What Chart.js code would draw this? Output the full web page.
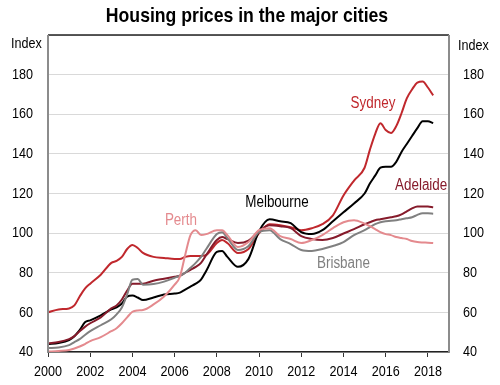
<!DOCTYPE html>
<html>
<head>
<meta charset="utf-8">
<script src="https://cdn.jsdelivr.net/npm/chart.js@4"></script>
<style>
  html, body { margin: 0; padding: 0; background: #fff; }
  #wrap { width: 500px; height: 385px; }
</style>
</head>
<body>
<div id="wrap"><canvas id="chart" width="500" height="385"></canvas></div>
<script>
// Housing prices in the major cities (index, 2010 = 100)

const years = [2000, 2000.5, 2001, 2001.25, 2001.5, 2001.75, 2002, 2002.5, 2003, 2003.25, 2003.5, 2003.75,
    2004, 2004.25, 2004.5, 2005, 2005.5, 2006, 2006.25, 2006.5, 2006.75, 2007, 2007.25, 2007.5,
    2008, 2008.25, 2008.5, 2009, 2009.5, 2010, 2010.5, 2011, 2011.5, 2012, 2012.5, 2013, 2013.5,
    2014, 2014.5, 2015, 2015.25, 2015.5, 2015.75, 2016, 2016.25, 2016.5, 2016.75, 2017, 2017.25,
    2017.5, 2017.75, 2018, 2018.25];

const sydney = [60, 61.5, 62, 63.5, 68, 72, 74.5, 79, 85, 86, 88, 92,
    94, 92.5, 90, 88, 87.5, 87, 87, 88, 88.5, 88.5, 88.5, 89,
    95, 96.5, 95, 90, 92, 100, 104.5, 104, 103, 101.5, 102.5, 104.5, 109,
    119, 126.5, 133, 142, 150, 155.5, 152, 150.5, 154, 160.5, 168, 172.5,
    176, 176.5, 173.5, 169.5];

const melbourne = [44, 44.5, 46, 48, 51, 55, 56, 58.5, 61.5, 62.5, 64.5, 68,
    68.5, 67.5, 66.2, 67.5, 69, 69.5, 70, 71.5, 73, 74.5, 76.5, 81,
    90.5, 91, 88, 83, 87, 101, 107, 106, 105, 100.5, 99.5, 101.5, 106,
    110.5, 115, 120, 125, 129, 133, 133.5, 133.5, 136, 141, 145, 149,
    153, 156.5, 156.5, 155.5];

const adelaide = [44.4, 45, 46.5, 48, 50.5, 52.7, 54.5, 57.5, 62, 63.5, 66.5, 71,
    74.5, 74.5, 74.5, 76, 77, 78, 78.5, 80, 81.5, 83, 85, 89,
    96.5, 98, 97, 95, 96.2, 101, 104, 103.5, 102.5, 98.5, 97, 96.5, 97.5,
    99.8, 102, 104.5, 105.5, 106.5, 107, 107.5, 108, 108.5, 109.5, 111, 112.5,
    113.5, 113.5, 113.5, 113];

const brisbane = [42, 42.3, 43.5, 45, 46.5, 48.6, 50.5, 53.5, 56.5, 59, 62.5, 69,
    76.5, 76.8, 74, 74.3, 75.5, 77.5, 78.5, 80, 82.5, 85, 88, 92,
    99.5, 100.5, 97.5, 91.5, 93.5, 100.5, 101.5, 97, 94.5, 91.5, 91, 92, 93.5,
    95.5, 99, 101.5, 103, 104.5, 105.5, 106, 106.2, 106.5, 107, 107.5, 108,
    109.2, 110, 110, 109.8];

const perth = [40.2, 40.5, 41, 41.8, 42.8, 44, 45.5, 47.5, 50.5, 52, 54.5, 57.5,
    60.3, 61, 61.2, 64, 68, 74, 78, 89, 99, 101.5, 99, 99.5,
    101.5, 101.5, 99, 93, 95.5, 101.5, 102.5, 98.5, 97, 95, 96.5, 99, 102.5,
    105.5, 106.5, 104.8, 103.5, 102, 100.5, 99.5, 99, 98, 97.5, 97, 96,
    95.5, 95.3, 95.2, 95];

const cities = ['Sydney', 'Melbourne', 'Adelaide', 'Brisbane', 'Perth'];
const colours = ['#c0282d', '#000000', '#861b2b', '#808080', '#e48a8e'];
const yTicks = [40, 60, 80, 100, 120, 140, 160, 180];
const xTicks = [2000, 2002, 2004, 2006, 2008, 2010, 2012, 2014, 2016, 2018];

// where the series names sit, in data units
const labelYears = [2015.4, 2010.85, 2017.68, 2014, 2006.3];
const labelValues = [165.6, 115.4, 124.1, 84.7, 106.1];

const FONT = '"Liberation Sans", Arial, sans-serif';
const SQUEEZE = 0.84; // the original text is narrow

function toPoints(vals) {
    return years.map((x, i) => ({x: x, y: vals[i]}));
}

// narrow text: draw with a horizontal squeeze
function say(ctx, text, x, y, font, color, align) {
    ctx.save();
    ctx.translate(x, y);
    ctx.scale(SQUEEZE, 1);
    ctx.font = font;
    ctx.fillStyle = color;
    ctx.textAlign = align;
    ctx.textBaseline = 'middle';
    ctx.fillText(text, 0, 0);
    ctx.restore();
}

const series = [sydney, melbourne, adelaide, brisbane, perth];
// draw order: pale ones underneath
const order = [4, 3, 2, 1, 0];

const datasets = order.map(i => ({
    label: cities[i],
    data: toPoints(series[i]),
    borderColor: colours[i],
    borderWidth: 2,
    pointRadius: 0,
    cubicInterpolationMode: 'monotone',
    fill: false
}));

const extras = {
    id: 'extras',
    afterDraw(chart) {
        const ctx = chart.ctx;
        const a = chart.chartArea;
        const xs = chart.scales.x, ys = chart.scales.y;
        ctx.save();

        // frame
        ctx.lineWidth = 1.5;
        ctx.strokeStyle = '#222';
        ctx.beginPath();
        ctx.moveTo(a.left, a.top); ctx.lineTo(a.right, a.top);
        ctx.stroke();
        ctx.strokeStyle = '#8c8c8c';
        ctx.lineWidth = 2;
        ctx.beginPath();
        ctx.moveTo(a.left, a.top); ctx.lineTo(a.left, a.bottom);
        ctx.moveTo(a.right, a.top); ctx.lineTo(a.right, a.bottom);
        ctx.stroke();
        ctx.restore();

        // title and unit labels
        say(ctx, 'Housing prices in the major cities', 247, 16, 'bold 21px ' + FONT, '#000', 'center');
        say(ctx, 'Index', 11, 44, '15px ' + FONT, '#000', 'left');
        say(ctx, 'Index', 458, 46, '15px ' + FONT, '#000', 'left');

        // tick labels
        yTicks.forEach(v => {
            const py = ys.getPixelForValue(v);
            say(ctx, String(v), 33, py, '15px ' + FONT, '#000', 'right');
            say(ctx, String(v), 463, py, '15px ' + FONT, '#000', 'left');
        });
        xTicks.forEach(v => {
            say(ctx, String(v), xs.getPixelForValue(v), 372, '15px ' + FONT, '#000', 'center');
        });

        // series names
        cities.forEach((c, i) => {
            say(ctx, c, xs.getPixelForValue(labelYears[i]), ys.getPixelForValue(labelValues[i]),
                '16px ' + FONT, colours[i], 'center');
        });
    }
};

new Chart(document.getElementById('chart').getContext('2d'), {
    type: 'line',
    data: {datasets: datasets},
    options: {
        responsive: false,
        animation: false,
        layout: {padding: {top: 35, left: 0, right: 0, bottom: 0}},
        plugins: {legend: {display: false}, tooltip: {enabled: false}, title: {display: false}},
        scales: {
            x: {
                type: 'linear',
                min: 2000,
                max: 2019,
                afterBuildTicks: s => { s.ticks = xTicks.map(v => ({value: v})); },
                afterFit: s => { s.height = 33; },
                ticks: {callback: () => '', maxRotation: 0},
                grid: {drawOnChartArea: false, tickLength: 5, color: '#333'},
                border: {color: '#222', width: 1.5}
            },
            y: {
                min: 40,
                max: 200,
                afterBuildTicks: s => { s.ticks = yTicks.concat([200]).map(v => ({value: v})); },
                afterFit: s => { s.width = 48; },
                ticks: {callback: () => ''},
                grid: {color: '#d9d9d9', drawTicks: false},
                border: {display: false}
            },
            y2: {
                position: 'right',
                min: 40,
                max: 200,
                afterFit: s => { s.width = 51; },
                ticks: {display: false},
                grid: {display: false},
                border: {display: false}
            }
        }
    },
    plugins: [extras]
});
</script>
</body>
</html>
